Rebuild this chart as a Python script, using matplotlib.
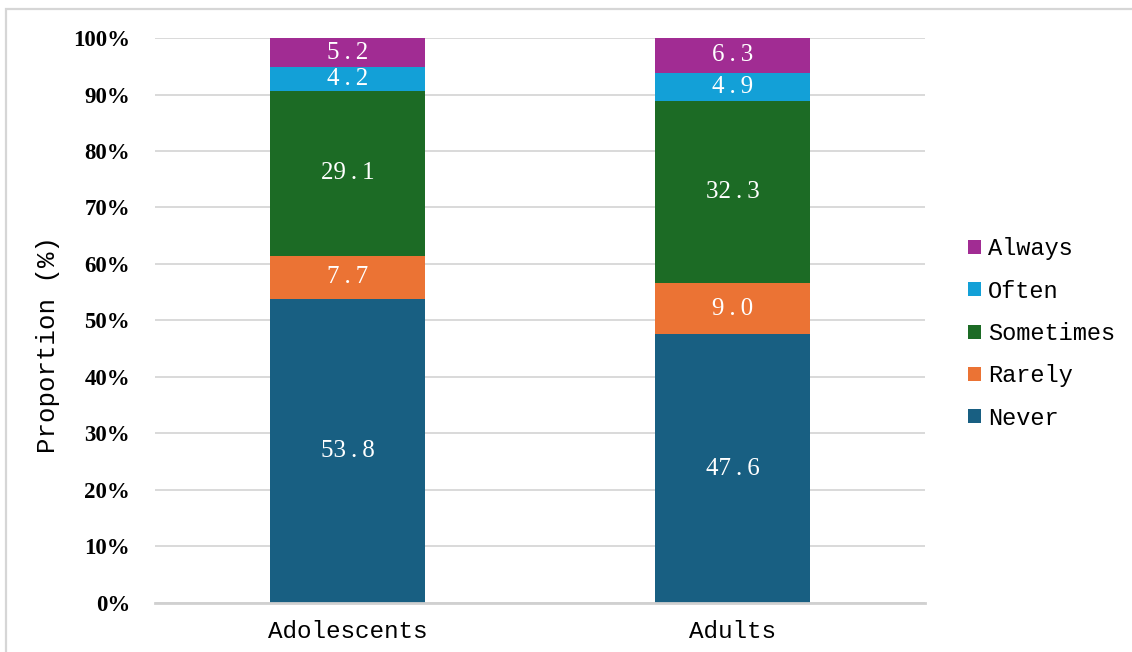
import matplotlib
matplotlib.use("Agg")
import matplotlib.pyplot as plt
from matplotlib.patches import Rectangle
from matplotlib.ticker import FuncFormatter

groups = ["Adolescents", "Adults"]
categories = ["Never", "Rarely", "Sometimes", "Often", "Always"]
values = {
    "Never": [53.8, 47.6],
    "Rarely": [7.7, 9.0],
    "Sometimes": [29.1, 32.3],
    "Often": [4.2, 4.9],
    "Always": [5.2, 6.3],
}
colors = {
    "Never": "#185f82",
    "Rarely": "#eb7334",
    "Sometimes": "#1c6b25",
    "Often": "#13a0d7",
    "Always": "#a12c93",
}
y_ticks = list(range(0, 101, 10))

mono = "Liberation Mono"
serif = "Liberation Serif"

fig = plt.figure(figsize=(11.32, 6.52), dpi=100)
ax = fig.add_axes([0.137, 0.0752, 0.680, 0.8665])

# thin frame along the top and left edge of the figure
fig.patches.append(Rectangle((0.0055, -0.1), 1.2, 1.0862, transform=fig.transFigure,
                             fill=False, edgecolor="#d6d6d6", linewidth=1.6))

x = list(range(len(groups)))
bottom = [0.0] * len(groups)
handles = {}
for cat in categories:
    vals = values[cat]
    bars = ax.bar(x, vals, width=0.403, bottom=bottom, color=colors[cat],
                  label=cat, zorder=3)
    handles[cat] = bars
    for xi, v, b in zip(x, vals, bottom):
        txt = f"{v:.1f}".replace(".", "\u2009.\u2009")
        ax.text(xi, b + v / 2, txt, ha="center", va="center", color="white",
                fontsize=18, family=serif, zorder=4)
    bottom = [b + v for b, v in zip(bottom, vals)]

ax.set_xlim(-0.5, 1.5)
ax.set_ylim(0, 100)
ax.set_yticks(y_ticks)
ax.yaxis.set_major_formatter(FuncFormatter(lambda v, p: f"{v:.0f}%"))
ax.set_xticks(x)
ax.set_xticklabels(groups, family=mono, fontsize=17.5)
for lab in ax.get_yticklabels():
    lab.set_family(serif)
    lab.set_fontweight("bold")
    lab.set_fontsize(16.5)
ax.tick_params(axis="both", length=0)
ax.tick_params(axis="y", pad=18)
ax.tick_params(axis="x", pad=12)

ax.grid(axis="y", color="#d9d9d9", linewidth=1.4, zorder=0)
for side in ["left", "right", "top"]:
    ax.spines[side].set_visible(False)
ax.spines["bottom"].set_color("#d0d0d0")
ax.spines["bottom"].set_linewidth(2)
ax.spines["bottom"].set_zorder(5)

ax.set_ylabel("Proportion (%)", family=mono, fontsize=18.5)
ax.yaxis.set_label_coords(-0.124, 0.457)

order = categories[::-1]
leg = ax.legend([handles[c] for c in order], order, loc="center left",
                bbox_to_anchor=(1.028, 0.477), frameon=False,
                prop={"family": mono, "size": 17}, handlelength=0.55,
                handleheight=0.55, handletextpad=0.3, labelspacing=0.82)

fig.savefig("out.png", dpi=100)
